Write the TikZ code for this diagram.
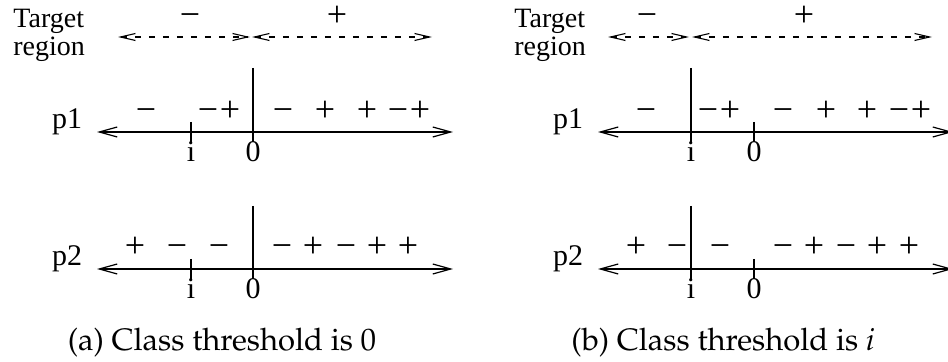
\documentclass[tikz,border=0pt]{standalone}
\usepackage[T1]{fontenc}
\usepackage{fontspec}
\setmainfont{Liberation Serif}
\usetikzlibrary{arrows.meta}

\newcommand{\capfont}{\fontencoding{T1}\fontfamily{ppl}\fontsize{15.5}{19}\selectfont}

\begin{document}
\begin{tikzpicture}[
    x=0.5pt, y=-0.5pt,
    every node/.style={font=\fontsize{14}{16}\selectfont, inner sep=0pt},
    sign/.style={anchor=base, font=\fontsize{18}{20}\selectfont},
    label/.style={anchor=base, font=\fontsize{15}{17}\selectfont},
    axis/.style={line width=0.6pt, {Straight Barb[length=9pt, width=5pt]}-{Straight Barb[length=9pt, width=5pt]}},
    region/.style={line width=0.55pt, dash pattern=on 3pt off 4pt, {Straight Barb[length=7.5pt, width=3.5pt]}-{Straight Barb[length=7.5pt, width=3.5pt]}},
    tickline/.style={line width=0.6pt},
    caption/.style={font=\capfont, anchor=base}
]
\useasboundingbox (0,0) rectangle (948,362);

% ---------- (a) class threshold is 0 ----------
\begin{scope}[name prefix=a-]
\node[anchor=base west] (target) at (13,28) {Target};
\node[anchor=base west] (region) at (13,56) {region};
\coordinate (r1l) at (118,37);
\coordinate (r1r) at (250,37);
\coordinate (r2l) at (252,37);
\coordinate (r2r) at (432,37);
\draw[region] (r1l) -- (r1r);
\draw[region] (r2l) -- (r2r);
\node[sign] (rm) at (190,27) {−};
\node[sign] (rp) at (337,27) {+};

% p1
\node[label] (p1) at (67,129) {p1};
\coordinate (p1l) at (97,132);
\coordinate (p1r) at (453,132);
\draw[axis] (p1l) -- (p1r);
\coordinate (p1it) at (191,122);
\coordinate (p1ib) at (191,142);
\coordinate (p1zt) at (253,68);
\coordinate (p1zb) at (253,142);
\draw[tickline] (p1it) -- (p1ib);
\draw[tickline] (p1zt) -- (p1zb);
\node[label] (p1i) at (191,162) {i};
\node[label] (p1z) at (253,162) {0};
\foreach \x/\s [count=\k] in {146/−, 208/−, 230/+, 283/−, 325/+, 367/+, 398/−, 420/+}
  \node[sign] (p1s\k) at (\x,122) {\s};

% p2
\node[label] (p2) at (67,266) {p2};
\coordinate (p2l) at (97,269);
\coordinate (p2r) at (453,269);
\draw[axis] (p2l) -- (p2r);
\coordinate (p2it) at (191,259);
\coordinate (p2ib) at (191,279);
\coordinate (p2zt) at (253,206);
\coordinate (p2zb) at (253,279);
\draw[tickline] (p2it) -- (p2ib);
\draw[tickline] (p2zt) -- (p2zb);
\node[label] (p2i) at (191,299) {i};
\node[label] (p2z) at (253,299) {0};
\foreach \x/\s [count=\k] in {135/+, 177/−, 219/−, 282/−, 313/+, 346/−, 377/+, 408/+}
  \node[sign] (p2s\k) at (\x,258) {\s};

\node[caption] (cap) at (222,351) {(a) Class threshold is 0};
\end{scope}

% ---------- (b) class threshold is i ----------
\begin{scope}[name prefix=b-]
\node[anchor=base west] (target) at (514,28) {Target};
\node[anchor=base west] (region) at (514,56) {region};
\coordinate (r1l) at (608,37);
\coordinate (r1r) at (689,37);
\coordinate (r2l) at (692,37);
\coordinate (r2r) at (932,37);
\draw[region] (r1l) -- (r1r);
\draw[region] (r2l) -- (r2r);
\node[sign] (rm) at (647,27) {−};
\node[sign] (rp) at (804,27) {+};

% p1
\node[label] (p1) at (568,129) {p1};
\coordinate (p1l) at (598,132);
\coordinate (p1r) at (953,132);
\draw[axis] (p1l) -- (p1r);
\coordinate (p1it) at (691,68);
\coordinate (p1ib) at (691,142);
\coordinate (p1zt) at (754,122);
\coordinate (p1zb) at (754,142);
\draw[tickline] (p1it) -- (p1ib);
\draw[tickline] (p1zt) -- (p1zb);
\node[label] (p1i) at (691,162) {i};
\node[label] (p1z) at (754,162) {0};
\foreach \x/\s [count=\k] in {646/−, 708/−, 730/+, 783/−, 826/+, 867/+, 899/−, 921/+}
  \node[sign] (p1s\k) at (\x,122) {\s};

% p2
\node[label] (p2) at (568,266) {p2};
\coordinate (p2l) at (598,269);
\coordinate (p2r) at (953,269);
\draw[axis] (p2l) -- (p2r);
\coordinate (p2it) at (691,206);
\coordinate (p2ib) at (691,279);
\coordinate (p2zt) at (754,259);
\coordinate (p2zb) at (754,279);
\draw[tickline] (p2it) -- (p2ib);
\draw[tickline] (p2zt) -- (p2zb);
\node[label] (p2i) at (691,299) {i};
\node[label] (p2z) at (754,299) {0};
\foreach \x/\s [count=\k] in {636/+, 677/−, 720/−, 783/−, 814/+, 846/−, 877/+, 909/+}
  \node[sign] (p2s\k) at (\x,258) {\s};

\node[caption] (cap) at (723,351) {(b) Class threshold is \textit{i}};
\end{scope}
\end{tikzpicture}
\end{document}
